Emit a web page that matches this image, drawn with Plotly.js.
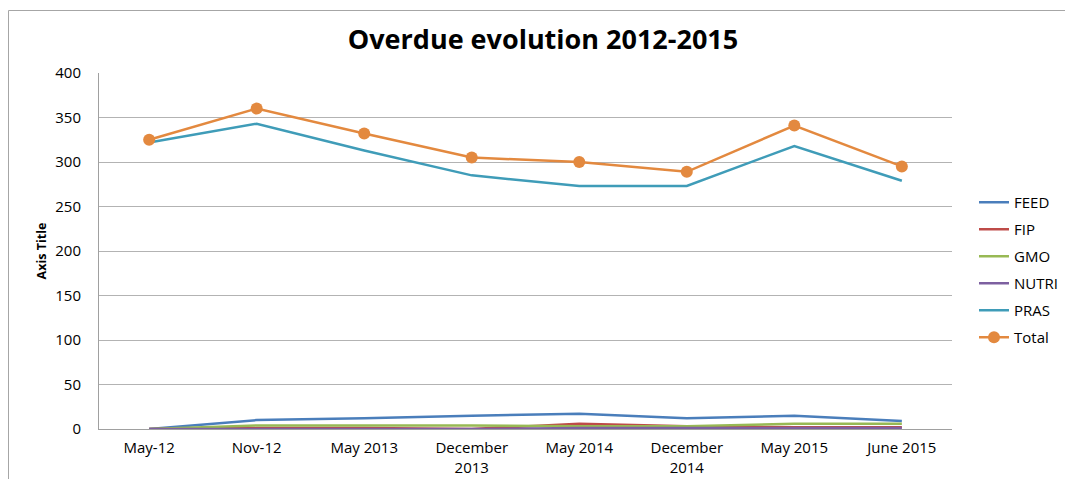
<!DOCTYPE html>
<html>
<head>
<meta charset="utf-8">
<script src="https://cdn.plot.ly/plotly-3.0.1.min.js"></script>
<style>
  html, body { margin: 0; padding: 0; background: #fff; }
  #chart { width: 1065px; height: 479px; }
</style>
</head>
<body>
<div id="chart"></div>
<script>
const categories = ["May-12", "Nov-12", "May 2013", "December<br>2013", "May 2014", "December<br>2014", "May 2015", "June 2015"];
const feed  = [0, 10, 12, 15, 17, 12, 15, 9];
const fip   = [0, 1, 1, 0, 6, 3, 2, 2];
const gmo   = [0, 4, 4, 4, 3, 3, 6, 6];
const nutri = [0, 0, 0, 0, 1, 1, 1, 1];
const pras  = [322, 343, 313, 285, 273, 273, 318, 279];
const total = [325, 360, 332, 305, 300, 289, 341, 295];
const yTicks = [0, 50, 100, 150, 200, 250, 300, 350, 400];

const series = [
  {name: "FEED",  y: feed,  color: "#4A7EBB"},
  {name: "FIP",   y: fip,   color: "#BE4B48"},
  {name: "GMO",   y: gmo,   color: "#98B954"},
  {name: "NUTRI", y: nutri, color: "#7D60A0"},
  {name: "PRAS",  y: pras,  color: "#3F9CB8"},
];

const traces = series.map((s, i) => ({
  type: "scatter", mode: "lines", name: s.name, x: categories, y: s.y,
  line: {color: s.color, width: 2.5}, legendgroup: "g" + i
}));
traces.push({
  type: "scatter", mode: "lines+markers", name: "Total", x: categories, y: total,
  line: {color: "#E3893F", width: 2.5},
  marker: {color: "#E3893F", size: 12},
  legendgroup: "g5"
});

// plot area in pixels: x 99..952, y 73..429
const L = 99, R = 952, T = 73, B = 429;
const px = v => (v - L) / (R - L);
const py = v => (B - v) / (B - T);
const FONT = "Open Sans, Liberation Sans, sans-serif";

const layout = {
  width: 1065, height: 479,
  margin: {l: L, r: 1065 - R, t: T, b: 479 - B, pad: 0, autoexpand: false},
  paper_bgcolor: "#ffffff", plot_bgcolor: "#ffffff",
  font: {family: FONT, size: 15, color: "#000"},
  title: {
    text: "<b>Overdue evolution 2012-2015</b>",
    font: {size: 27, family: FONT, color: "#000"},
    x: 543 / 1065, xanchor: "center", xref: "container",
    y: 1 - 40 / 479, yanchor: "middle", yref: "container"
  },
  xaxis: {
    type: "category", showgrid: false, zeroline: false,
    showline: true, linecolor: "#A0A0A0", linewidth: 1,
    ticks: "outside", ticklen: 5, tickcolor: "rgba(0,0,0,0)",
    tickfont: {size: 15}, fixedrange: true
  },
  yaxis: {
    range: [0, 400], tickvals: yTicks, ticktext: yTicks.map(String),
    showgrid: true, gridcolor: "#B3B3B3", gridwidth: 1,
    showline: true, linecolor: "#A0A0A0", linewidth: 1,
    zeroline: false, ticks: "outside", ticklen: 14, tickcolor: "rgba(0,0,0,0)",
    tickfont: {size: 15},
    title: {text: "<b>Axis Title</b>", font: {size: 12.5}, standoff: 5},
    fixedrange: true
  },
  legend: {
    x: px(974), xanchor: "left", y: py(186), yanchor: "top",
    bgcolor: "rgba(0,0,0,0)", font: {size: 15},
    tracegroupgap: 4.5, itemwidth: 30
  },
  shapes: [{
    type: "rect", xref: "paper", yref: "paper",
    x0: px(8.5), x1: px(1080), y0: py(10.5), y1: py(500),
    line: {color: "#A6A6A6", width: 1}, fillcolor: "rgba(0,0,0,0)", layer: "below"
  }],
  showlegend: true
};

Plotly.newPlot("chart", traces, layout, {displayModeBar: false, staticPlot: true});
</script>
</body>
</html>
